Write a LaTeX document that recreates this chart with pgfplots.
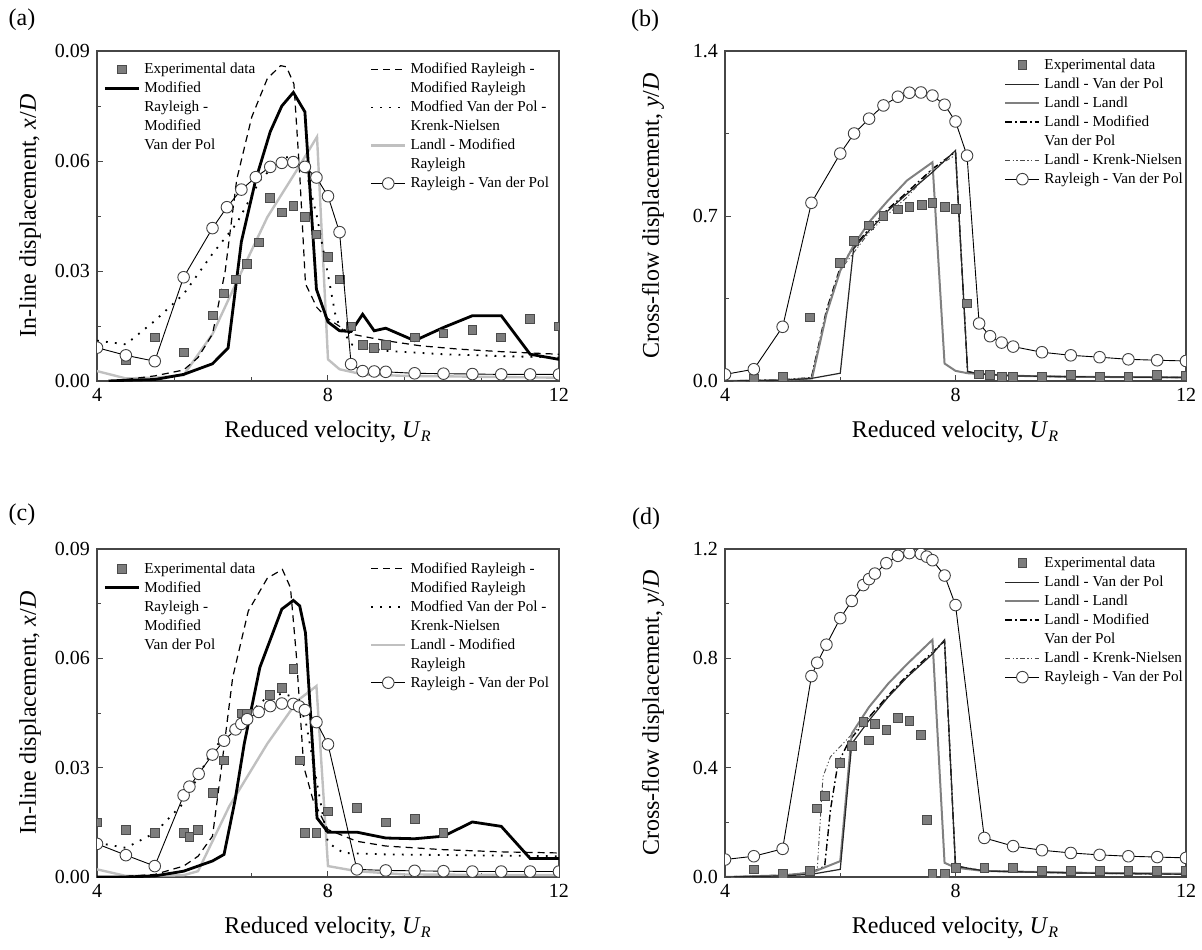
\documentclass[border=0pt]{standalone}
\usepackage{fontspec}
\setmainfont{Liberation Serif}
\usepackage{pgfplots}
\pgfplotsset{compat=1.18}
\definecolor{cAxis}{RGB}{70,70,70}
\definecolor{cExp}{RGB}{125,125,125}
\definecolor{cExpE}{RGB}{75,75,75}
\definecolor{cLight}{RGB}{192,192,192}
\definecolor{cMid}{RGB}{128,128,128}

\pgfplotsset{
  panel/.style={
    scale only axis, xmin=4, xmax=12, ymin=0,
    xtick={4,8,12},
    scaled y ticks=false,
    tick align=inside, xtick pos=left, ytick pos=left,
    minor y tick num=1,
    axis line style={draw=cAxis, line width=0.6pt},
    tick style={cAxis, line width=0.5pt},
    major tick length=3pt, minor tick length=1.8pt,
    clip marker paths=true,
    /pgf/number format/assume math mode=true,
    tick label style={font=\fontsize{10}{12}\selectfont},
    label style={font=\fontsize{12}{14}\selectfont},
    xlabel={Reduced velocity, \textit{U}\textsubscript{\textit{R}}},
    xlabel style={at={(axis description cs:0.5,-0.155)}, anchor=center},
  },
  inline/.style={
    ymax=0.09, ytick={0,0.03,0.06,0.09},
    yticklabel style={/pgf/number format/.cd, fixed, fixed zerofill, precision=2},
    minor x tick num=2,
    ylabel={In-line displacement, \textit{x}/\textit{D}},
    ylabel style={at={(axis description cs:-0.145,0.5)}, anchor=center},
  },
  cross/.style={
    yticklabel style={/pgf/number format/.cd, fixed, fixed zerofill, precision=1},
    minor x tick num=1,
    ylabel={Cross-flow displacement, \textit{y}/\textit{D}},
    ylabel style={at={(axis description cs:-0.156,0.5)}, anchor=center},
  },
  leg/.style={
    scale only axis, hide axis, xmin=0, xmax=1, ymin=0, ymax=1,
    legend style={draw=none, fill=none, anchor=north west,
      font=\fontsize{7.6}{9}\selectfont, cells={anchor=west},
      row sep=0pt, inner sep=0pt,
      nodes={inner ysep=0.75pt, inner xsep=2pt, text height=6.2pt, text depth=1.8pt}},
  },
  sExp/.style={only marks, mark=square*, mark size=2.2pt,
    mark options={fill=cExp, draw=cExpE, line width=0.4pt}},
  sThick/.style={black, line width=1.4pt, no marks},
  sDash/.style={black, line width=0.6pt, dash pattern=on 3.5pt off 2.5pt, no marks},
  sDot/.style={black, line width=0.9pt, dash pattern=on 0.9pt off 3.6pt, no marks},
  sLight/.style={cLight, line width=1.2pt, no marks},
  sCirc/.style={black, line width=0.45pt, mark=*, mark size=2.9pt,
    mark options={fill=white, draw=black!75, line width=0.45pt, solid}},
  sThin/.style={black!85, line width=0.6pt, no marks},
  sGray/.style={cMid, line width=1pt, no marks},
  sDashDot/.style={black, line width=0.7pt, dash pattern=on 3.5pt off 1.5pt on 0.8pt off 1.5pt, no marks},
  sDashDotDot/.style={black!70, line width=0.45pt, dash pattern=on 2.5pt off 1.2pt on 0.6pt off 1.2pt on 0.6pt off 1.2pt, no marks},
}

\begin{document}
\begin{tikzpicture}
\useasboundingbox (0,0) rectangle (601pt,474.5pt);

% ---------------- (a) ----------------
\begin{axis}[panel, inline, at={(48.5pt,284pt)}, anchor=south west, width=231pt, height=165pt]
\addplot[sLight] coordinates {(4,0.0027)(4.5,0.0007)(5,0.0009)(5.5,0.0016)(6,0.0128)(6.4,0.0264)(6.95,0.0447)(7.48,0.058)(7.81,0.0666)(8,0.0059)(8.2,0.0032)(8.6,0.0018)(9.33,0.0014)(12,0.0009)};
\addplot[sDot] coordinates {(4,0.011)(4.5,0.01)(5,0.0164)(5.5,0.0237)(6,0.0347)(6.42,0.043)(6.82,0.0547)(7.21,0.061)(7.41,0.061)(7.61,0.058)(7.81,0.0447)(8,0.029)(8.14,0.017)(8.4,0.01)(9,0.0082)(10,0.0073)(11,0.0068)(12,0.0064)};
\addplot[sDash] coordinates {(4.3,0)(5,0.0014)(5.5,0.003)(5.75,0.0064)(6,0.0128)(6.22,0.03)(6.42,0.055)(6.68,0.072)(6.95,0.0825)(7.18,0.086)(7.28,0.0857)(7.41,0.081)(7.51,0.0565)(7.61,0.0265)(7.81,0.02)(8,0.017)(8.4,0.0128)(9,0.011)(9.6,0.0096)(10.26,0.0087)(11,0.008)(12,0.0073)};
\addplot[sThick] coordinates {(4.2,0)(4.5,0.0002)(5,0.0004)(5.5,0.0018)(6,0.0047)(6.27,0.009)(6.5,0.038)(6.75,0.055)(7,0.068)(7.2,0.075)(7.4,0.0787)(7.6,0.0734)(7.8,0.025)(8,0.0161)(8.2,0.0137)(8.4,0.0135)(8.6,0.0182)(8.8,0.0137)(9,0.0144)(9.5,0.011)(10,0.0146)(10.5,0.0178)(11,0.0178)(11.5,0.0073)(12,0.0059)};
\addplot[sExp] coordinates {(4.5,0.0057)(5,0.0119)(5.5,0.0078)(6,0.0179)(6.2,0.0239)(6.4,0.0277)(6.6,0.0319)(6.8,0.0378)(7,0.0499)(7.2,0.046)(7.4,0.0478)(7.6,0.0448)(7.8,0.04)(8,0.0339)(8.2,0.0277)(8.4,0.0149)(8.6,0.0098)(8.8,0.009)(9,0.0098)(9.5,0.0119)(10,0.013)(10.5,0.014)(11,0.0119)(11.5,0.0169)(12,0.0149)};
\addplot[sCirc] coordinates {(4,0.0091)(4.5,0.007)(5,0.0054)(5.5,0.0283)(6,0.0417)(6.25,0.0474)(6.5,0.0522)(6.75,0.0556)(7,0.0584)(7.2,0.0595)(7.4,0.0597)(7.6,0.0584)(7.8,0.0555)(8,0.0504)(8.2,0.0406)(8.4,0.0046)(8.6,0.0027)(8.8,0.0026)(9,0.0025)(9.5,0.0021)(10,0.002)(10.5,0.0019)(11,0.0018)(11.5,0.0018)(12,0.0018)};
\end{axis}
\begin{axis}[leg, at={(48.5pt,284pt)}, anchor=south west, width=231pt, height=165pt,
  legend style={at={(0.013,0.974)}}]
\addlegendimage{sExp}\addlegendentry{Experimental data}
\addlegendimage{sThick}\addlegendentry{Modified}
\addlegendimage{empty legend}\addlegendentry{Rayleigh -}
\addlegendimage{empty legend}\addlegendentry{Modified}
\addlegendimage{empty legend}\addlegendentry{Van der Pol}
\end{axis}
\begin{axis}[leg, at={(48.5pt,284pt)}, anchor=south west, width=231pt, height=165pt,
  legend style={at={(0.59,0.974)}}]
\addlegendimage{sDash}\addlegendentry{Modified Rayleigh -}
\addlegendimage{empty legend}\addlegendentry{Modified Rayleigh}
\addlegendimage{sDot}\addlegendentry{Modfied Van der Pol -}
\addlegendimage{empty legend}\addlegendentry{Krenk-Nielsen}
\addlegendimage{sLight}\addlegendentry{Landl - Modified}
\addlegendimage{empty legend}\addlegendentry{Rayleigh}
\addlegendimage{sCirc}\addlegendentry{Rayleigh - Van der Pol}
\end{axis}

% ---------------- (b) ----------------
\begin{axis}[panel, cross, at={(362.5pt,284pt)}, anchor=south west, width=230.5pt, height=165pt,
  ymax=1.4, ytick={0,0.7,1.4}]
\addplot[sDashDotDot] coordinates {(4,0)(5,0.005)(5.5,0.014)(5.76,0.29)(6,0.47)(6.5,0.63)(6.83,0.708)(7.16,0.78)(7.6,0.9)(8,0.958)(8.21,0.04)(8.41,0.03)(9,0.022)(10,0.018)(12,0.015)};
\addplot[sDashDot] coordinates {(4,0)(5,0.005)(5.5,0.014)(5.76,0.3)(6,0.482)(6.23,0.567)(6.5,0.645)(6.83,0.73)(7.16,0.801)(7.6,0.9)(8,0.972)(8.21,0.04)(8.41,0.03)(9,0.022)(10,0.018)(12,0.015)};
\addplot[sGray] coordinates {(4,0)(5,0.003)(5.51,0.011)(5.76,0.284)(6,0.468)(6.23,0.574)(6.5,0.674)(6.83,0.766)(7.16,0.851)(7.6,0.928)(7.81,0.074)(8,0.043)(8.21,0.033)(9,0.022)(10,0.018)(12,0.015)};
\addplot[sThin] coordinates {(4,0)(5,0.003)(5.5,0.011)(6,0.033)(6.23,0.56)(6.5,0.638)(6.83,0.723)(7.16,0.794)(7.6,0.886)(8,0.978)(8.21,0.04)(8.41,0.03)(9,0.022)(10,0.018)(12,0.015)};
\addplot[sExp] coordinates {(4.5,0.011)(5,0.018)(5.48,0.27)(6,0.5)(6.24,0.596)(6.5,0.66)(6.75,0.7)(7,0.728)(7.2,0.738)(7.41,0.748)(7.6,0.757)(7.81,0.74)(8,0.729)(8.2,0.329)(8.41,0.028)(8.6,0.026)(8.8,0.017)(9,0.017)(9.5,0.017)(10,0.027)(10.5,0.017)(11,0.017)(11.5,0.027)(12,0.02)};
\addplot[sCirc] coordinates {(4,0.028)(4.5,0.05)(5,0.23)(5.5,0.756)(6,0.965)(6.24,1.05)(6.5,1.113)(6.75,1.169)(7,1.206)(7.2,1.223)(7.4,1.224)(7.6,1.211)(7.81,1.172)(8,1.101)(8.2,0.956)(8.41,0.244)(8.6,0.19)(8.8,0.163)(9,0.146)(9.5,0.122)(10,0.109)(10.5,0.101)(11,0.092)(11.5,0.088)(12,0.085)};
\end{axis}
\begin{axis}[leg, at={(362.5pt,284pt)}, anchor=south west, width=230.5pt, height=165pt,
  legend style={at={(0.605,0.987)}}]
\addlegendimage{sExp}\addlegendentry{Experimental data}
\addlegendimage{sThin}\addlegendentry{Landl - Van der Pol}
\addlegendimage{sGray}\addlegendentry{Landl - Landl}
\addlegendimage{sDashDot}\addlegendentry{Landl - Modified}
\addlegendimage{empty legend}\addlegendentry{Van der Pol}
\addlegendimage{sDashDotDot}\addlegendentry{Landl - Krenk-Nielsen}
\addlegendimage{sCirc}\addlegendentry{Rayleigh - Van der Pol}
\end{axis}

% ---------------- (c) ----------------
\begin{axis}[panel, inline, at={(48.5pt,36pt)}, anchor=south west, width=231pt, height=164pt]
\addplot[sLight] coordinates {(4,0.0021)(4.5,0.0003)(5.5,0.0005)(5.75,0.0016)(6.29,0.0194)(6.95,0.0366)(7.48,0.0485)(7.8,0.0524)(8,0.003)(8.5,0.0016)(9.33,0.0007)(12,0.0005)};
\addplot[sDot] coordinates {(4,0.0094)(4.5,0.008)(5,0.0121)(5.5,0.0203)(6,0.0348)(6.42,0.042)(6.95,0.0494)(7.21,0.0503)(7.41,0.0494)(7.61,0.043)(7.81,0.0257)(8,0.0094)(8.27,0.0066)(9,0.0062)(12,0.0057)};
\addplot[sDash] coordinates {(4.3,0)(5,0.0007)(5.5,0.003)(5.75,0.0057)(6,0.0112)(6.15,0.0294)(6.35,0.0548)(6.62,0.073)(6.95,0.082)(7.21,0.0844)(7.35,0.0794)(7.45,0.0612)(7.58,0.0303)(7.74,0.0212)(8,0.013)(8.5,0.0098)(9,0.0085)(10,0.0075)(11,0.0069)(12,0.0066)};
\addplot[sThick] coordinates {(4,0)(4.5,0)(5,0.0003)(5.5,0.0016)(6,0.0044)(6.2,0.0062)(6.39,0.021)(6.55,0.0366)(6.82,0.0575)(7.2,0.0735)(7.4,0.0759)(7.51,0.0744)(7.61,0.067)(7.81,0.0162)(8,0.0123)(8.5,0.0123)(9,0.0107)(9.5,0.0105)(10,0.0112)(10.5,0.0151)(11,0.0139)(11.5,0.0051)(12,0.0051)};
\addplot[sExp] coordinates {(4,0.015)(4.5,0.013)(5,0.012)(5.5,0.012)(5.6,0.011)(5.75,0.013)(6,0.023)(6.2,0.032)(6.5,0.0449)(6.6,0.0449)(7,0.05)(7.2,0.052)(7.4,0.057)(7.51,0.032)(7.6,0.012)(7.8,0.012)(8,0.018)(8.5,0.019)(9,0.015)(9.5,0.016)(10,0.012)};
\addplot[sCirc] coordinates {(4,0.0091)(4.5,0.006)(5,0.003)(5.5,0.0224)(5.6,0.0248)(5.76,0.0283)(6,0.0336)(6.2,0.0374)(6.4,0.0405)(6.5,0.042)(6.6,0.0433)(6.8,0.0453)(7,0.0469)(7.2,0.0476)(7.4,0.0475)(7.5,0.0468)(7.6,0.0458)(7.8,0.0425)(8,0.0364)(8.5,0.0021)(9,0.0018)(9.5,0.0017)(10,0.0016)(10.5,0.0015)(11,0.0015)(11.5,0.0015)(12,0.0015)};
\end{axis}
\begin{axis}[leg, at={(48.5pt,36pt)}, anchor=south west, width=231pt, height=164pt,
  legend style={at={(0.013,0.97)}}]
\addlegendimage{sExp}\addlegendentry{Experimental data}
\addlegendimage{sThick}\addlegendentry{Modified}
\addlegendimage{empty legend}\addlegendentry{Rayleigh -}
\addlegendimage{empty legend}\addlegendentry{Modified}
\addlegendimage{empty legend}\addlegendentry{Van der Pol}
\end{axis}
\begin{axis}[leg, at={(48.5pt,36pt)}, anchor=south west, width=231pt, height=164pt,
  legend style={at={(0.59,0.97)}}]
\addlegendimage{sDash}\addlegendentry{Modified Rayleigh -}
\addlegendimage{empty legend}\addlegendentry{Modified Rayleigh}
\addlegendimage{sDot}\addlegendentry{Modfied Van der Pol -}
\addlegendimage{empty legend}\addlegendentry{Krenk-Nielsen}
\addlegendimage{sLight}\addlegendentry{Landl - Modified}
\addlegendimage{empty legend}\addlegendentry{Rayleigh}
\addlegendimage{sCirc}\addlegendentry{Rayleigh - Van der Pol}
\end{axis}

% ---------------- (d) ----------------
\begin{axis}[panel, cross, at={(362.5pt,36pt)}, anchor=south west, width=230.5pt, height=164pt,
  ymax=1.2, ytick={0,0.4,0.8,1.2}]
\addplot[sDashDotDot] coordinates {(4,0)(5,0.006)(5.5,0.016)(5.6,0.028)(5.7,0.367)(5.83,0.44)(6.16,0.513)(6.5,0.585)(6.83,0.658)(7.16,0.731)(7.6,0.816)(7.81,0.864)(8,0.04)(8.5,0.022)(10,0.015)(12,0.01)};
\addplot[sDashDot] coordinates {(4,0)(5,0.006)(5.5,0.016)(5.73,0.04)(5.83,0.246)(5.96,0.416)(6.16,0.5)(6.5,0.585)(6.83,0.664)(7.16,0.737)(7.6,0.822)(7.81,0.864)(8,0.04)(8.5,0.022)(10,0.015)(12,0.01)};
\addplot[sGray] coordinates {(4,0)(5,0.006)(5.5,0.016)(6,0.058)(6.2,0.525)(6.5,0.622)(6.83,0.707)(7.16,0.779)(7.6,0.868)(7.81,0.052)(8,0.034)(8.5,0.022)(10,0.016)(12,0.012)};
\addplot[sThin] coordinates {(4,0)(5,0.004)(5.5,0.01)(6,0.028)(6.2,0.488)(6.5,0.573)(6.83,0.658)(7.16,0.731)(7.6,0.816)(7.81,0.868)(8,0.04)(8.5,0.022)(10,0.015)(12,0.01)};
\addplot[sExp] coordinates {(4.5,0.028)(5,0.012)(5.48,0.022)(5.6,0.251)(5.74,0.298)(6,0.418)(6.2,0.48)(6.4,0.568)(6.5,0.5)(6.6,0.561)(6.8,0.539)(7,0.581)(7.2,0.571)(7.4,0.519)(7.5,0.21)(7.6,0.01)(7.81,0.01)(8,0.032)(8.5,0.032)(9,0.032)(9.5,0.022)(10,0.022)(10.5,0.022)(11,0.022)(11.5,0.022)(12,0.022)};
\addplot[sCirc] coordinates {(4,0.064)(4.5,0.076)(5,0.103)(5.5,0.735)(5.6,0.784)(5.76,0.85)(6,0.947)(6.2,1.01)(6.4,1.068)(6.5,1.09)(6.6,1.11)(6.8,1.148)(7,1.175)(7.2,1.185)(7.4,1.182)(7.5,1.172)(7.6,1.159)(7.81,1.103)(8,0.995)(8.5,0.143)(9,0.113)(9.5,0.098)(10,0.088)(10.5,0.081)(11,0.076)(11.5,0.073)(12,0.07)};
\end{axis}
\begin{axis}[leg, at={(362.5pt,36pt)}, anchor=south west, width=230.5pt, height=164pt,
  legend style={at={(0.605,0.987)}}]
\addlegendimage{sExp}\addlegendentry{Experimental data}
\addlegendimage{sThin}\addlegendentry{Landl - Van der Pol}
\addlegendimage{sGray}\addlegendentry{Landl - Landl}
\addlegendimage{sDashDot}\addlegendentry{Landl - Modified}
\addlegendimage{empty legend}\addlegendentry{Van der Pol}
\addlegendimage{sDashDotDot}\addlegendentry{Landl - Krenk-Nielsen}
\addlegendimage{sCirc}\addlegendentry{Rayleigh - Van der Pol}
\end{axis}

\node[font=\fontsize{12}{14}\selectfont] at (11pt,464.5pt) {(a)};
\node[font=\fontsize{12}{14}\selectfont] at (322.5pt,464pt) {(b)};
\node[font=\fontsize{12}{14}\selectfont] at (11pt,217pt) {(c)};
\node[font=\fontsize{12}{14}\selectfont] at (323pt,215pt) {(d)};
\end{tikzpicture}
\end{document}
